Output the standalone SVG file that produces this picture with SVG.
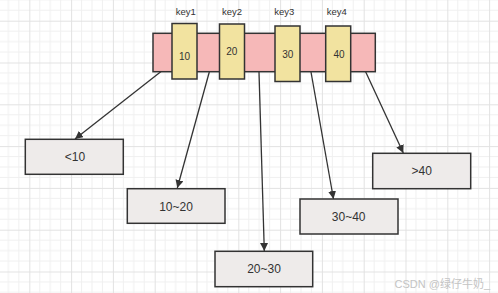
<svg xmlns="http://www.w3.org/2000/svg" width="498" height="293" viewBox="0 0 498 293">
<defs>
<pattern id="grid" patternUnits="userSpaceOnUse" x="29.3" y="20.7" width="41.8" height="41.8">
<path d="M10.45 0V41.8M20.9 0V41.8M31.35 0V41.8M0 10.45H41.8M0 20.9H41.8M0 31.35H41.8" stroke="#f0f0f0" stroke-width="1" fill="none"/>
<path d="M0.5 0V41.8M0 0.5H41.8" stroke="#e2e2e2" stroke-width="1" fill="none"/>
</pattern>
<marker id="arr" viewBox="0 0 10 10" refX="10" refY="5" markerWidth="8" markerHeight="8" markerUnits="userSpaceOnUse" orient="auto">
<path d="M0 0L10 5L0 10Z" fill="#333"/>
</marker>
</defs>
<style>
.t{font-family:"Liberation Sans",Arial,sans-serif;fill:#333;text-anchor:middle;dominant-baseline:central}
.key{fill:#f2e3a0;stroke:#333;stroke-width:1.5}
.leaf{fill:#eeebea;stroke:#333;stroke-width:1.5}
.c{stroke:#333;stroke-width:1.3;fill:none;marker-end:url(#arr)}
</style>
<rect width="498" height="293" fill="#fff"/>
<rect width="498" height="293" fill="url(#grid)"/>
<g id="connectors">
<line class="c" x1="161.7" y1="71" x2="75" y2="139"/>
<line class="c" x1="209.3" y1="72" x2="177.3" y2="188"/>
<line class="c" x1="259" y1="72" x2="264.3" y2="251"/>
<line class="c" x1="311" y1="72" x2="333.5" y2="199"/>
<line class="c" x1="365.5" y1="71.5" x2="403.3" y2="153"/>
</g>
<g id="node-bar">
<rect x="153" y="33.3" width="222.3" height="38.4" fill="#f6b8b8" stroke="#333" stroke-width="1.5"/>
</g>
<g id="key1">
<rect class="key" x="172" y="23.5" width="25" height="55.5"/>
<text class="t" x="184.5" y="56.5" font-size="10">10</text>
<text class="t" x="185.7" y="11.7" font-size="9.5">key1</text>
</g>
<g id="key2">
<rect class="key" x="219.5" y="24" width="25" height="55"/>
<text class="t" x="231.8" y="51.5" font-size="10">20</text>
<text class="t" x="232" y="11.7" font-size="9.5">key2</text>
</g>
<g id="key3">
<rect class="key" x="275" y="26" width="25" height="55.5"/>
<text class="t" x="287.7" y="54.3" font-size="10">30</text>
<text class="t" x="284.3" y="11.7" font-size="9.5">key3</text>
</g>
<g id="key4">
<rect class="key" x="325.7" y="26" width="25" height="55.5"/>
<text class="t" x="339" y="54.3" font-size="10">40</text>
<text class="t" x="336.7" y="11.7" font-size="9.5">key4</text>
</g>
<g id="leaf-lt10">
<rect class="leaf" x="25.3" y="139.3" width="98" height="35"/>
<text class="t" x="75" y="157.3" font-size="12">&lt;10</text>
</g>
<g id="leaf-10-20">
<rect class="leaf" x="127.3" y="188.7" width="97.7" height="34.6"/>
<text class="t" x="176" y="206.7" font-size="12">10~20</text>
</g>
<g id="leaf-20-30">
<rect class="leaf" x="215" y="251.3" width="97.7" height="35.4"/>
<text class="t" x="264" y="269.3" font-size="12">20~30</text>
</g>
<g id="leaf-30-40">
<rect class="leaf" x="300" y="199" width="98" height="35"/>
<text class="t" x="348.7" y="216.5" font-size="12">30~40</text>
</g>
<g id="leaf-gt40">
<rect class="leaf" x="372.7" y="153.3" width="98" height="35.4"/>
<text class="t" x="421.7" y="171" font-size="12">&gt;40</text>
</g>
<text x="490" y="284" font-size="11" fill="#c4c4c4" text-anchor="end" dominant-baseline="central" font-family="Liberation Sans,'Noto Sans CJK SC',sans-serif">CSDN @绿仔牛奶_</text>
</svg>
